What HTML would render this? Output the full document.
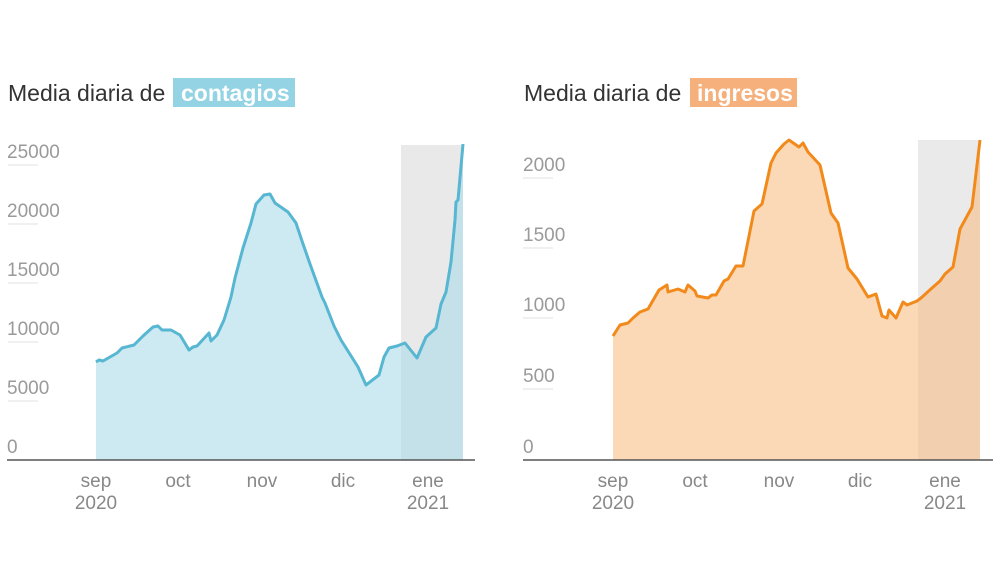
<!DOCTYPE html>
<html><head><meta charset="utf-8"><style>
body{margin:0;background:#fff;width:1000px;height:563px;overflow:hidden;font-family:"Liberation Sans",sans-serif}
</style></head><body>
<svg width="1000" height="563" viewBox="0 0 1000 563" xmlns="http://www.w3.org/2000/svg" font-family="Liberation Sans, sans-serif">
<!-- Left -->
<rect x="173" y="78" width="122" height="29" fill="#93d3e3"/>
<text x="8" y="101" font-size="23" fill="#333">Media diaria de</text>
<text x="181" y="101" font-size="23" fill="#fff" font-weight="bold">contagios</text>
<rect x="401" y="145" width="62" height="315" fill="#f3f3f3"/>
<g stroke="#e2e2e2" stroke-width="1">
<line x1="8" x2="38" y1="165" y2="165"/><line x1="8" x2="38" y1="224" y2="224"/><line x1="8" x2="38" y1="283" y2="283"/><line x1="8" x2="38" y1="342" y2="342"/><line x1="8" x2="38" y1="401" y2="401"/>
</g>
<g font-size="19" fill="#9a9a9a">
<text x="7" y="158">25000</text><text x="7" y="217">20000</text><text x="7" y="276">15000</text><text x="7" y="335">10000</text><text x="7" y="394">5000</text><text x="7" y="453">0</text>
</g>
<polygon fill="#cdeaf2" points="96,460 96,362 99,360 103,361 110,357 117,353 122,348 134,345 139,340 143,336 153,327 158,326 162,330 171,330 180,335 189,350 193,347 197,346 209,333 211,341 217,335 224,320 231,297 235,278 243,248 251,223 256,204 264,195 270,194 275,203 288,212 296,223 302,241 310,264 322,297 325,303 334,326 341,340 358,367 366,385 379,375 384,357 389,348 397,346 405,343 417,358 426,337 436,328 441,304 446,292 451,262 455,220 456,202 458,200 463,144 463,460"/>
<rect x="401" y="145" width="62" height="315" fill="#000" opacity="0.04"/>
<polyline fill="none" stroke="#57b6d1" stroke-width="3" stroke-linejoin="round" points="96,362 99,360 103,361 110,357 117,353 122,348 134,345 139,340 143,336 153,327 158,326 162,330 171,330 180,335 189,350 193,347 197,346 209,333 211,341 217,335 224,320 231,297 235,278 243,248 251,223 256,204 264,195 270,194 275,203 288,212 296,223 302,241 310,264 322,297 325,303 334,326 341,340 358,367 366,385 379,375 384,357 389,348 397,346 405,343 417,358 426,337 436,328 441,304 446,292 451,262 455,220 456,202 458,200 463,144"/>
<line x1="7" x2="475" y1="460" y2="460" stroke="#555" stroke-width="1.5"/>
<g font-size="19" fill="#888" text-anchor="middle">
<text x="96" y="487">sep</text><text x="96" y="509">2020</text><text x="178" y="487">oct</text><text x="262" y="487">nov</text><text x="343" y="487">dic</text><text x="428" y="487">ene</text><text x="428" y="509">2021</text>
</g>
<!-- Right -->
<rect x="690" y="78" width="107" height="29" fill="#f5b07b"/>
<text x="524" y="101" font-size="23" fill="#333">Media diaria de</text>
<text x="697" y="101" font-size="23" fill="#fff" font-weight="bold">ingresos</text>
<rect x="918" y="140" width="62" height="320" fill="#f3f3f3"/>
<g stroke="#e2e2e2" stroke-width="1">
<line x1="523" x2="553" y1="178" y2="178"/><line x1="523" x2="553" y1="248" y2="248"/><line x1="523" x2="553" y1="318" y2="318"/><line x1="523" x2="553" y1="389" y2="389"/>
</g>
<g font-size="19" fill="#9a9a9a">
<text x="523" y="171">2000</text><text x="523" y="241">1500</text><text x="523" y="311">1000</text><text x="523" y="382">500</text><text x="523" y="453">0</text>
</g>
<polygon fill="#fbd8b6" points="613,460 613,336 620,325 628,323 633,318 640,312 648,309 659,290 667,285 668,292 678,289 685,292 688,285 695,291 697,296 708,298 712,295 716,295 724,281 728,279 736,266 743,266 754,211 762,204 771,163 776,153 784,144 789,140 799,147 803,143 808,152 820,165 831,213 838,223 848,268 857,279 868,297 876,294 882,316 887,318 889,310 896,318 903,302 907,305 917,301 921,298 932,288 940,281 945,274 953,267 960,229 972,207 980,140 980,460"/>
<rect x="918" y="140" width="62" height="320" fill="#000" opacity="0.035"/>
<polyline fill="none" stroke="#f28a1b" stroke-width="3" stroke-linejoin="round" points="613,336 620,325 628,323 633,318 640,312 648,309 659,290 667,285 668,292 678,289 685,292 688,285 695,291 697,296 708,298 712,295 716,295 724,281 728,279 736,266 743,266 754,211 762,204 771,163 776,153 784,144 789,140 799,147 803,143 808,152 820,165 831,213 838,223 848,268 857,279 868,297 876,294 882,316 887,318 889,310 896,318 903,302 907,305 917,301 921,298 932,288 940,281 945,274 953,267 960,229 972,207 980,140"/>
<line x1="523" x2="993" y1="460" y2="460" stroke="#555" stroke-width="1.5"/>
<g font-size="19" fill="#888" text-anchor="middle">
<text x="613" y="487">sep</text><text x="613" y="509">2020</text><text x="695" y="487">oct</text><text x="779" y="487">nov</text><text x="860" y="487">dic</text><text x="945" y="487">ene</text><text x="945" y="509">2021</text>
</g>
</svg>
</body></html>
